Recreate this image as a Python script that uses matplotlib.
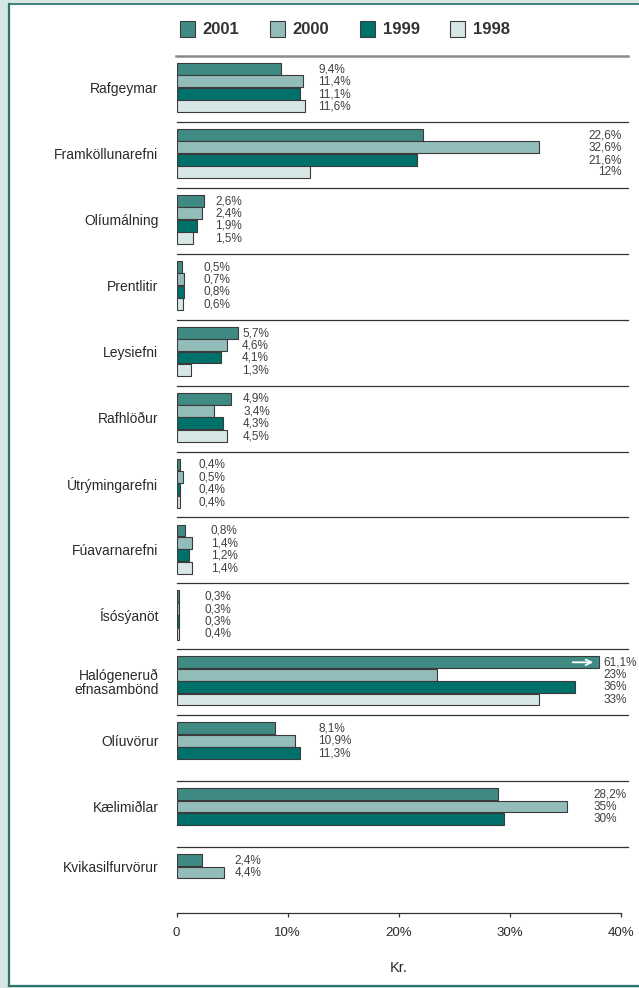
import matplotlib
matplotlib.use("Agg")
import matplotlib.pyplot as plt
from matplotlib.patches import Rectangle, Patch

plt.rcParams['font.family'] = ['Liberation Sans', 'DejaVu Sans']

# data
categories = ["Rafgeymar", "Framköllunarefni", "Olíumálning", "Prentlitir",
              "Leysiefni", "Rafhlöður", "Útrýmingarefni", "Fúavarnarefni",
              "Ísósýanöt", "Halógeneruð\nefnasambönd", "Olíuvörur",
              "Kælimiðlar", "Kvikasilfurvörur"]
years = ["2001", "2000", "1999", "1998"]

val_2001 = [9.4, 22.2, 2.5, 0.5, 5.5, 4.9, 0.35, 0.8, 0.25, 61.1, 8.9, 28.9, 2.3]
val_2000 = [11.4, 32.6, 2.3, 0.7, 4.5, 3.4, 0.55, 1.4, 0.25, 23.4, 10.7, 35.1, 4.3]
val_1999 = [11.1, 21.6, 1.8, 0.7, 4.0, 4.2, 0.35, 1.1, 0.25, 35.9, 11.1, 29.5, None]
val_1998 = [11.6, 12.0, 1.5, 0.55, 1.3, 4.5, 0.35, 1.4, 0.25, 32.6, None, None, None]

lab_2001 = ["9,4%", "22,6%", "2,6%", "0,5%", "5,7%", "4,9%", "0,4%", "0,8%", "0,3%", "61,1%", "8,1%", "28,2%", "2,4%"]
lab_2000 = ["11,4%", "32,6%", "2,4%", "0,7%", "4,6%", "3,4%", "0,5%", "1,4%", "0,3%", "23%", "10,9%", "35%", "4,4%"]
lab_1999 = ["11,1%", "21,6%", "1,9%", "0,8%", "4,1%", "4,3%", "0,4%", "1,2%", "0,3%", "36%", "11,3%", "30%", None]
lab_1998 = ["11,6%", "12%", "1,5%", "0,6%", "1,3%", "4,5%", "0,4%", "1,4%", "0,4%", "33%", None, None, None]

# where the value labels sit (x in %, alignment)
label_x = [12.75, 40.05, 3.5, 2.4, 5.9, 6.0, 1.95, 3.1, 2.5, 38.4, 12.75, 37.5, 5.2]
label_ha = ["left", "right"] + ["left"] * 11

xticks = [0, 10, 20, 30, 40]
xticklabels = ["0", "10%", "20%", "30%", "40%"]
clip_at = 38.0

colors = ["#3f8b84", "#93bdba", "#00706a", "#d7e7e5"]
edge = "#3a3a3a"
frame_col = "#2a756c"
strip_col = "#d6e6e4"

W, H = 639, 988
fig = plt.figure(figsize=(W / 100, H / 100), dpi=100)

# frame around the chart
fig.patches.append(Rectangle((0, 0), 8 / W, 1, transform=fig.transFigure, color=strip_col, zorder=0))
fig.patches.append(Rectangle((0, 1 - 4 / H), 1, 4 / H, transform=fig.transFigure, color=strip_col, zorder=0))
fig.patches.append(Rectangle((0, 0), 1, 2 / H, transform=fig.transFigure, color=strip_col, zorder=0))
fig.lines.append(plt.Line2D([8.5 / W, 8.5 / W], [2 / H, 1 - 4 / H], transform=fig.transFigure, color=frame_col, lw=1.6))
fig.lines.append(plt.Line2D([8.5 / W, 1], [1 - 4.5 / H, 1 - 4.5 / H], transform=fig.transFigure, color=frame_col, lw=1.2))
fig.lines.append(plt.Line2D([8.5 / W, 1], [2.5 / H, 2.5 / H], transform=fig.transFigure, color=frame_col, lw=1.6))

ax_left, ax_right = 176.5, 621.0
ax_top, ax_bot = 56.0, 913.0
ax = fig.add_axes([ax_left / W, 1 - ax_bot / H, (ax_right - ax_left) / W, (ax_bot - ax_top) / H])

n = len(categories)
slot = 12.4 / 65.9
offset = 6.8 / 65.9
bar_h = 0.18

series = [val_2001, val_2000, val_1999, val_1998]
labels = [lab_2001, lab_2000, lab_1999, lab_1998]
ytick_pos = []
for i in range(n):
    count = 0
    for j in range(4):
        v = series[j][i]
        if v is None:
            continue
        count += 1
        yc = i + offset + slot * j + slot / 2
        ax.barh(yc, min(v, clip_at), height=bar_h, color=colors[j], edgecolor=edge, linewidth=0.8, zorder=3)
        ax.text(label_x[i], yc + 0.005, labels[j][i], ha=label_ha[i], va="center",
                fontsize=8.5, color="#404040", clip_on=False)
        if v > clip_at:
            ax.annotate("", xy=(clip_at - 0.25, yc), xytext=(clip_at - 2.6, yc),
                        arrowprops=dict(arrowstyle="->", color="white", lw=1.3), zorder=4)
    ytick_pos.append(i + offset + slot * count / 2)

# separators between groups
ax.axhline(0, xmin=-0.002, xmax=(628 - ax_left) / (ax_right - ax_left), color="#8a8a8a", lw=1.8, clip_on=False, zorder=2)
for i in range(1, n):
    ax.axhline(i, xmin=0, xmax=(628 - ax_left) / (ax_right - ax_left), color="#333333", lw=0.9, clip_on=False, zorder=2)

ax.set_xlim(0, 40)
ax.set_ylim(n, 0)
ax.set_yticks(ytick_pos)
ax.set_yticklabels(categories, fontsize=10, color="#2a2a2a", linespacing=1.0)
ax.tick_params(axis="y", length=0, pad=13)
ax.set_xticks(xticks)
ax.set_xticklabels(xticklabels, fontsize=9.5, color="#2a2a2a")
ax.tick_params(axis="x", direction="out", length=3, width=0.9, color="#333333", pad=7)
for s in ["top", "left", "right"]:
    ax.spines[s].set_visible(False)
ax.spines["bottom"].set_color("#333333")
ax.spines["bottom"].set_linewidth(0.9)
ax.set_xlabel("Kr.", fontsize=10.5, color="#2a2a2a", labelpad=16)

handles = [Patch(facecolor=colors[k], edgecolor=edge, linewidth=0.8, label=years[k]) for k in range(4)]
fig.legend(handles=handles, loc="center", bbox_to_anchor=(345 / W, 1 - 29 / H), ncol=4,
           frameon=False, handlelength=0.9, handleheight=1.1,
           handletextpad=0.45, columnspacing=1.85,
           prop={"size": 12, "weight": "bold"}, labelcolor="#333333")

fig.savefig("out.png", dpi=100)
